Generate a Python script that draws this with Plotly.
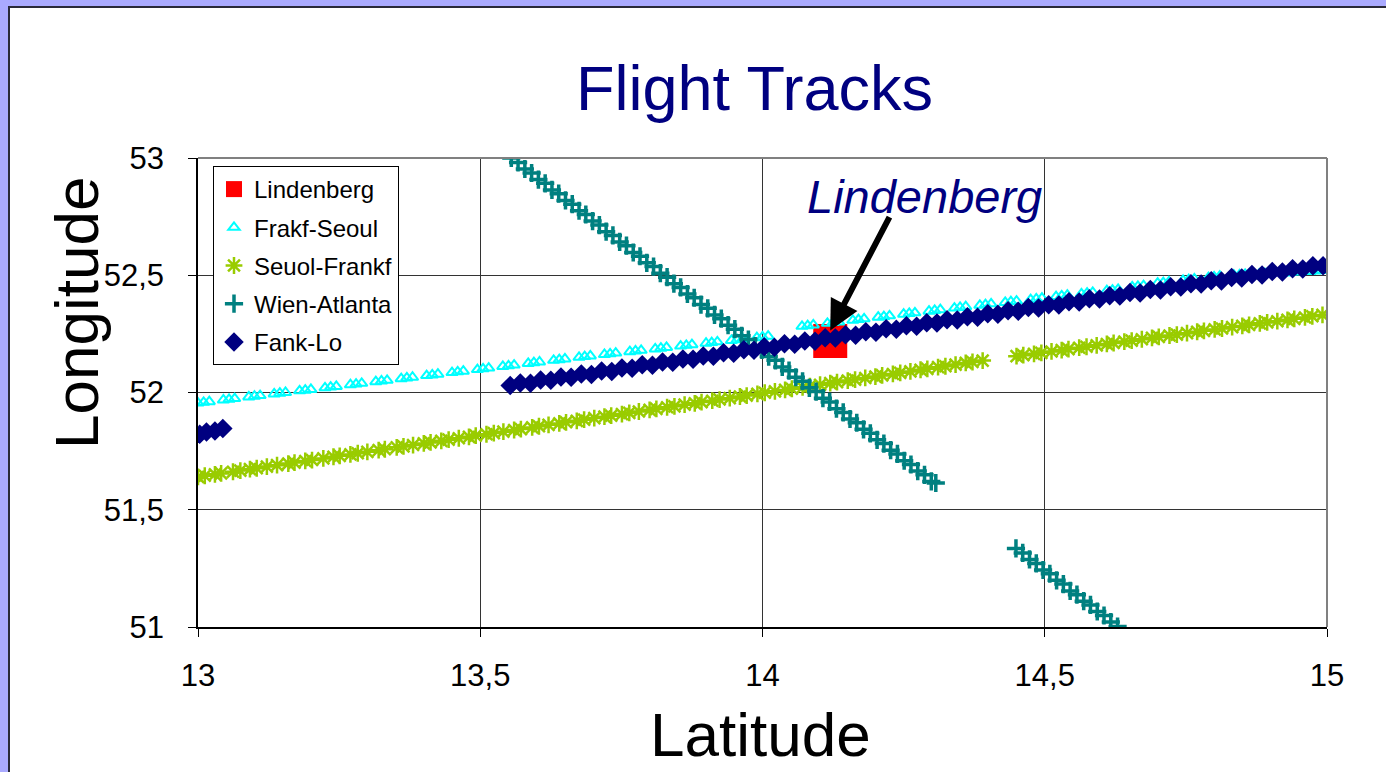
import plotly.graph_objects as go

# ---- data: geographic positions (x = Latitude axis, y = Longitude axis) ----
lindenberg_x = [14.12]
lindenberg_y = [52.22]

frakf_seoul_x = [
    13.000, 13.010, 13.020, 13.045, 13.055, 13.065, 13.090, 13.100, 13.110,
    13.135, 13.145, 13.155, 13.180, 13.190, 13.200, 13.225, 13.235, 13.245,
    13.270, 13.280, 13.290, 13.315, 13.325, 13.335, 13.360, 13.370, 13.380,
    13.405, 13.415, 13.425, 13.450, 13.460, 13.470, 13.495, 13.505, 13.515,
    13.540, 13.550, 13.560, 13.585, 13.595, 13.605, 13.630, 13.640, 13.650,
    13.675, 13.685, 13.695, 13.720, 13.730, 13.740, 13.765, 13.775, 13.785,
    13.810, 13.820, 13.830, 13.855, 13.865, 13.875, 13.900, 13.910, 13.920,
    13.945, 13.955, 13.965, 13.990, 14.000, 14.010, 14.070, 14.080, 14.090,
    14.115, 14.125, 14.135, 14.160, 14.170, 14.180, 14.205, 14.215, 14.225,
    14.250, 14.260, 14.270, 14.295, 14.305, 14.315, 14.340, 14.350, 14.360,
    14.385, 14.395, 14.405, 14.430, 14.440, 14.450, 14.475, 14.485, 14.495,
    14.520, 14.530, 14.540, 14.565, 14.575, 14.585, 14.610, 14.620, 14.630,
    14.655, 14.665, 14.675, 14.700, 14.710, 14.720, 14.745, 14.755, 14.765,
    14.790, 14.800, 14.810, 14.835, 14.845, 14.855, 14.880, 14.890, 14.900,
    14.925, 14.935, 14.945, 14.970, 14.980, 14.990,
]
frakf_seoul_y = [
    51.955, 51.958, 51.961, 51.968, 51.971, 51.974, 51.981, 51.984, 51.987,
    51.994, 51.997, 52.000, 52.007, 52.010, 52.013, 52.020, 52.023, 52.026,
    52.033, 52.036, 52.039, 52.046, 52.049, 52.052, 52.059, 52.062, 52.065,
    52.072, 52.075, 52.078, 52.085, 52.088, 52.091, 52.098, 52.101, 52.104,
    52.111, 52.114, 52.117, 52.124, 52.127, 52.130, 52.137, 52.140, 52.143,
    52.150, 52.153, 52.156, 52.162, 52.165, 52.168, 52.174, 52.177, 52.180,
    52.186, 52.189, 52.192, 52.198, 52.201, 52.204, 52.210, 52.213, 52.216,
    52.222, 52.225, 52.228, 52.234, 52.237, 52.240, 52.282, 52.285, 52.288,
    52.295, 52.298, 52.301, 52.308, 52.311, 52.314, 52.321, 52.324, 52.327,
    52.334, 52.337, 52.340, 52.347, 52.350, 52.353, 52.360, 52.363, 52.366,
    52.372, 52.375, 52.378, 52.384, 52.387, 52.390, 52.396, 52.399, 52.402,
    52.409, 52.412, 52.415, 52.421, 52.424, 52.427, 52.434, 52.437, 52.440,
    52.450, 52.453, 52.456, 52.466, 52.469, 52.472, 52.478, 52.481, 52.484,
    52.490, 52.493, 52.496, 52.500, 52.502, 52.504, 52.505, 52.507, 52.509,
    52.510, 52.512, 52.514, 52.516, 52.518, 52.520,
]

seoul_frankf_x = [
    13.000, 13.012, 13.030, 13.041, 13.062, 13.075, 13.092, 13.104, 13.122, 13.140,
    13.160, 13.171, 13.190, 13.202, 13.222, 13.240, 13.251, 13.270, 13.283, 13.300,
    13.320, 13.331, 13.352, 13.364, 13.381, 13.400, 13.412, 13.431, 13.444, 13.462,
    13.480, 13.492, 13.511, 13.524, 13.541, 13.560, 13.572, 13.592, 13.604, 13.621,
    13.640, 13.652, 13.671, 13.684, 13.702, 13.720, 13.732, 13.751, 13.764, 13.781,
    13.800, 13.812, 13.831, 13.844, 13.862, 13.880, 13.892, 13.911, 13.924, 13.942,
    13.960, 13.972, 13.991, 14.004, 14.022, 14.040, 14.052, 14.071, 14.084, 14.102,
    14.120, 14.132, 14.151, 14.164, 14.182, 14.200, 14.212, 14.231, 14.244, 14.262,
    14.280, 14.292, 14.311, 14.324, 14.342, 14.360, 14.372, 14.390,
    14.450, 14.462, 14.481, 14.494, 14.512, 14.530, 14.542, 14.561, 14.574, 14.592,
    14.610, 14.622, 14.641, 14.654, 14.672, 14.690, 14.702, 14.721, 14.734, 14.752,
    14.770, 14.782, 14.801, 14.814, 14.832, 14.850, 14.862, 14.881, 14.894, 14.912,
    14.930, 14.942, 14.961, 14.974, 14.992,
]
seoul_frankf_y = [
    51.640, 51.645, 51.651, 51.655, 51.662, 51.667, 51.673, 51.677, 51.684, 51.690,
    51.697, 51.701, 51.708, 51.712, 51.719, 51.726, 51.730, 51.736, 51.741, 51.747,
    51.754, 51.758, 51.766, 51.770, 51.776, 51.783, 51.787, 51.794, 51.799, 51.805,
    51.811, 51.816, 51.822, 51.827, 51.833, 51.840, 51.844, 51.851, 51.856, 51.862,
    51.868, 51.873, 51.879, 51.884, 51.891, 51.897, 51.901, 51.908, 51.913, 51.919,
    51.926, 51.930, 51.937, 51.941, 51.948, 51.954, 51.959, 51.965, 51.970, 51.976,
    51.983, 51.987, 51.994, 51.999, 52.005, 52.011, 52.016, 52.022, 52.027, 52.033,
    52.040, 52.044, 52.051, 52.055, 52.062, 52.068, 52.073, 52.079, 52.084, 52.090,
    52.097, 52.101, 52.108, 52.112, 52.119, 52.126, 52.130, 52.136,
    52.155, 52.159, 52.165, 52.169, 52.175, 52.181, 52.185, 52.191, 52.195, 52.201,
    52.207, 52.211, 52.217, 52.221, 52.227, 52.233, 52.237, 52.243, 52.247, 52.253,
    52.259, 52.263, 52.269, 52.273, 52.279, 52.284, 52.288, 52.295, 52.299, 52.304,
    52.310, 52.314, 52.320, 52.325, 52.331,
]

wien_atlanta_x = [
    13.555, 13.567, 13.579, 13.591, 13.603, 13.615, 13.627, 13.639, 13.651, 13.663,
    13.675, 13.687, 13.699, 13.711, 13.723, 13.735, 13.747, 13.759, 13.771, 13.783,
    13.795, 13.807, 13.819, 13.831, 13.843, 13.855, 13.867, 13.879, 13.891, 13.903,
    13.915, 13.927, 13.939, 13.951, 13.963, 13.975, 13.987, 13.999, 14.011, 14.023,
    14.035, 14.047, 14.059, 14.071, 14.083, 14.095, 14.107, 14.119, 14.131, 14.143,
    14.155, 14.167, 14.179, 14.191, 14.203, 14.215, 14.227, 14.239, 14.251, 14.263,
    14.275, 14.287, 14.299, 14.307,
    14.449, 14.461, 14.473, 14.485, 14.497, 14.509, 14.521, 14.533, 14.545, 14.557,
    14.569, 14.581, 14.593, 14.605, 14.617, 14.629,
]
wien_atlanta_y = [
    53.000, 52.981, 52.953, 52.936, 52.908, 52.892, 52.864, 52.848, 52.819, 52.803,
    52.775, 52.759, 52.731, 52.714, 52.686, 52.670, 52.642, 52.626, 52.597, 52.581,
    52.553, 52.537, 52.509, 52.492, 52.464, 52.448, 52.420, 52.404, 52.375, 52.359,
    52.331, 52.315, 52.287, 52.270, 52.242, 52.226, 52.198, 52.182, 52.153, 52.137,
    52.109, 52.093, 52.065, 52.048, 52.020, 52.004, 51.976, 51.960, 51.931, 51.915,
    51.887, 51.871, 51.843, 51.826, 51.798, 51.782, 51.754, 51.738, 51.709, 51.693,
    51.665, 51.649, 51.621, 51.614,
    51.335, 51.316, 51.288, 51.271, 51.243, 51.227, 51.199, 51.183, 51.154, 51.138,
    51.110, 51.094, 51.066, 51.049, 51.021, 51.002,
]

fank_lo_x = [
    13.003, 13.015, 13.030, 13.044,
    13.553, 13.571, 13.589, 13.607, 13.625, 13.643, 13.661, 13.679, 13.697, 13.715,
    13.733, 13.751, 13.769, 13.787, 13.805, 13.823, 13.841, 13.859, 13.877, 13.895,
    13.913, 13.931, 13.949, 13.967, 13.985, 14.003, 14.021, 14.039, 14.057, 14.075,
    14.093, 14.111, 14.129, 14.147, 14.165, 14.183, 14.201, 14.219, 14.237, 14.255,
    14.273, 14.291, 14.309, 14.327, 14.345, 14.363, 14.381, 14.399, 14.417, 14.435,
    14.453, 14.471, 14.489, 14.507, 14.525, 14.543, 14.561, 14.579, 14.597, 14.615,
    14.633, 14.651, 14.669, 14.687, 14.705, 14.723, 14.741, 14.759, 14.777, 14.795,
    14.813, 14.831, 14.849, 14.867, 14.885, 14.903, 14.921, 14.939, 14.957, 14.975,
    14.993,
]
fank_lo_y = [
    51.822, 51.832, 51.836, 51.847,
    52.030, 52.040, 52.039, 52.053, 52.052, 52.066, 52.065, 52.079, 52.077, 52.092,
    52.090, 52.105, 52.103, 52.118, 52.116, 52.130, 52.129, 52.143, 52.142, 52.156,
    52.155, 52.169, 52.167, 52.182, 52.180, 52.195, 52.193, 52.208, 52.206, 52.220,
    52.219, 52.233, 52.232, 52.246, 52.244, 52.259, 52.257, 52.272, 52.270, 52.285,
    52.283, 52.297, 52.296, 52.310, 52.309, 52.323, 52.321, 52.336, 52.334, 52.349,
    52.347, 52.362, 52.360, 52.374, 52.373, 52.387, 52.386, 52.400, 52.399, 52.413,
    52.412, 52.426, 52.424, 52.439, 52.437, 52.451, 52.450, 52.464, 52.463, 52.477,
    52.476, 52.490, 52.488, 52.503, 52.501, 52.516, 52.514, 52.528, 52.527, 52.541,
    52.540,
]

x_ticks = [13, 13.5, 14, 14.5, 15]
y_ticks = [51, 51.5, 52, 52.5, 53]

FONT = "Arial, 'Liberation Sans', sans-serif"
NAVY = "#000080"

fig = go.Figure()

fig.add_trace(go.Scatter(
    x=lindenberg_x, y=lindenberg_y, mode="markers", name="Lindenberg",
    legendgroup="a",
    marker=dict(symbol="square", size=34, color="#FF0000", line=dict(width=0)),
))
fig.add_trace(go.Scatter(
    x=frakf_seoul_x, y=frakf_seoul_y, mode="markers", name="Frakf-Seoul",
    legendgroup="b",
    marker=dict(symbol="triangle-up-open", size=10, color="#00FFFF",
                line=dict(width=2, color="#00FFFF")),
))
fig.add_trace(go.Scatter(
    x=seoul_frankf_x, y=seoul_frankf_y, mode="markers", name="Seuol-Frankf",
    legendgroup="c",
    marker=dict(symbol="asterisk-open", size=14, color="#99CC00",
                line=dict(width=2.5, color="#99CC00")),
))
fig.add_trace(go.Scatter(
    x=wien_atlanta_x, y=wien_atlanta_y, mode="markers", name="Wien-Atlanta",
    legendgroup="d",
    marker=dict(symbol="cross-thin-open", size=13, color="#008080",
                line=dict(width=3.5, color="#008080")),
))
fig.add_trace(go.Scatter(
    x=fank_lo_x, y=fank_lo_y, mode="markers", name="Fank-Lo",
    legendgroup="e",
    marker=dict(symbol="diamond", size=15, color=NAVY, line=dict(width=0)),
))

W, H = 1386, 772
ML, MR, MT, MB = 198, 59, 158, 145
PW, PH = W - ML - MR, H - MT - MB


def px_x(p):
    return (p - ML) / PW


def px_y(p):
    return (H - MB - p) / PH


axis_common = dict(
    showgrid=True, gridcolor="#333333", gridwidth=1,
    zeroline=False, showline=True, linecolor="#000000", linewidth=1.5,
    ticks="outside", ticklen=8, tickcolor="#000000", tickwidth=1,
    tickfont=dict(family=FONT, size=31, color="#000000"),
    fixedrange=True,
)

fig.update_xaxes(range=[13, 15], tickvals=x_ticks, ticklabelstandoff=12,
                 **axis_common)
fig.update_yaxes(range=[51, 53], tickvals=y_ticks, ticklabelstandoff=18,
                 **axis_common)

shapes = [
    # white panel with dark edge over the lavender page
    dict(type="rect", xref="paper", yref="paper", layer="below",
         x0=px_x(9), x1=px_x(1400), y0=px_y(790), y1=px_y(7),
         fillcolor="#FFFFFF", line=dict(color="#2A2A3A", width=2)),
    # grey top / right plot border
    dict(type="line", xref="paper", yref="paper", x0=0, x1=1, y0=1, y1=1,
         line=dict(color="#808080", width=2)),
    dict(type="line", xref="paper", yref="paper", x0=1, x1=1, y0=0, y1=1,
         line=dict(color="#808080", width=2)),
]

annotations = [
    dict(text="Flight Tracks", xref="paper", yref="paper",
         x=px_x(754), y=px_y(88), xanchor="center", yanchor="middle",
         showarrow=False, font=dict(family=FONT, size=63, color=NAVY)),
    dict(text="Longitude", xref="paper", yref="paper",
         x=px_x(76), y=px_y(313), xanchor="center", yanchor="middle",
         textangle=-90, showarrow=False,
         font=dict(family=FONT, size=62, color="#000000")),
    dict(text="Latitude", xref="paper", yref="paper",
         x=px_x(760), y=px_y(734), xanchor="center", yanchor="middle",
         showarrow=False, font=dict(family=FONT, size=62, color="#000000")),
    dict(text="<i>Lindenberg</i>", xref="paper", yref="paper",
         x=px_x(924), y=px_y(196), xanchor="center", yanchor="middle",
         showarrow=False, font=dict(family=FONT, size=47, color=NAVY)),
    dict(text="", x=14.12, y=52.264, xref="x", yref="y",
         showarrow=True, ax=60, ay=-115, axref="pixel", ayref="pixel",
         arrowhead=2, arrowsize=1, arrowwidth=6, arrowcolor="#000000"),
]

fig.update_layout(
    width=W, height=H, autosize=False,
    margin=dict(l=ML, r=MR, t=MT, b=MB, pad=0),
    paper_bgcolor="#AAAAFF", plot_bgcolor="#FFFFFF",
    separators=", ",
    font=dict(family=FONT, color="#000000"),
    shapes=shapes, annotations=annotations,
    showlegend=True,
    legend=dict(
        x=px_x(213), y=px_y(166), xanchor="left", yanchor="top",
        bgcolor="#FFFFFF", bordercolor="#000000", borderwidth=1,
        font=dict(family=FONT, size=24, color="#000000"),
        traceorder="grouped", tracegroupgap=4, itemwidth=30,
    ),
)

fig.write_html("out.html")
